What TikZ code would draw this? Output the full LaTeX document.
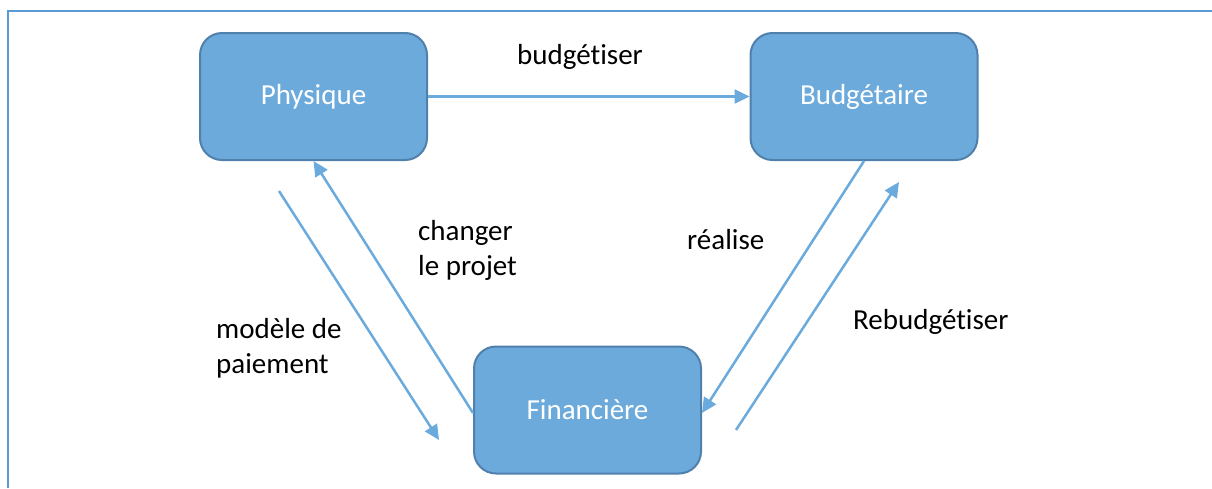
\documentclass[tikz,border=0pt]{standalone}
\usepackage{fontspec}
\setmainfont{Carlito}[RawFeature={-liga;-clig;-calt}]
\usetikzlibrary{arrows.meta}

\definecolor{boxfill}{RGB}{108,170,220}
\definecolor{boxline}{RGB}{80,128,172}
\definecolor{arrowc}{RGB}{106,170,221}
\definecolor{framec}{RGB}{91,155,213}

\tikzset{
  etat/.style={draw=boxline, fill=boxfill, line width=2pt, rounded corners=22pt,
    minimum width=227pt, minimum height=127pt, inner sep=0pt, text=white,
    font=\fontsize{29}{35}\selectfont},
  fleche/.style={draw=arrowc, line width=2.5pt, -{Triangle[length=15pt,width=14pt]}},
  lbl/.style={font=\fontsize{29}{35}\selectfont, align=left, inner sep=0pt}
}

\begin{document}
\begin{tikzpicture}[x=1pt,y=-1pt]
        \useasboundingbox (0,0) rectangle (1212,488);
        \draw[framec, line width=2.5pt] (8,488) -- (8,11) -- (1212,11);

        \node[etat] at (313.5,96.5) (phys) {Physique};
        \node[etat] at (864,96.5) (budg) {Budgétaire};
        \node[etat] at (587.5,410) (fin) {Financière};

        % bouts libres
        \coordinate (pstart) at (279,191);
        \coordinate (pend) at (439,440);
        \coordinate (rstart) at (736,430);
        \coordinate (rend) at (899,182);

        \draw[fleche] (phys.east) -- (budg.west);
        \draw[fleche] ([yshift=-3pt]fin.west) -- (phys.south);
        \draw[fleche] (budg.south) -- ([yshift=-3pt]fin.east);
        \draw[fleche] (pstart) -- (pend);
        \draw[fleche] (rstart) -- (rend);

        \node[lbl] at (580,57) (lbudg) {budgétiser};
        \node[lbl, anchor=west] at (418,250) (lchang) {changer\\le projet};
        \node[lbl, anchor=west] at (687,240) (lreal) {réalise};
        \node[lbl, anchor=west] at (216,348) (lmod) {modèle de\\paiement};
        \node[lbl, anchor=west] at (853,322) (lrebud) {Rebudgétiser};
\end{tikzpicture}
\end{document}
